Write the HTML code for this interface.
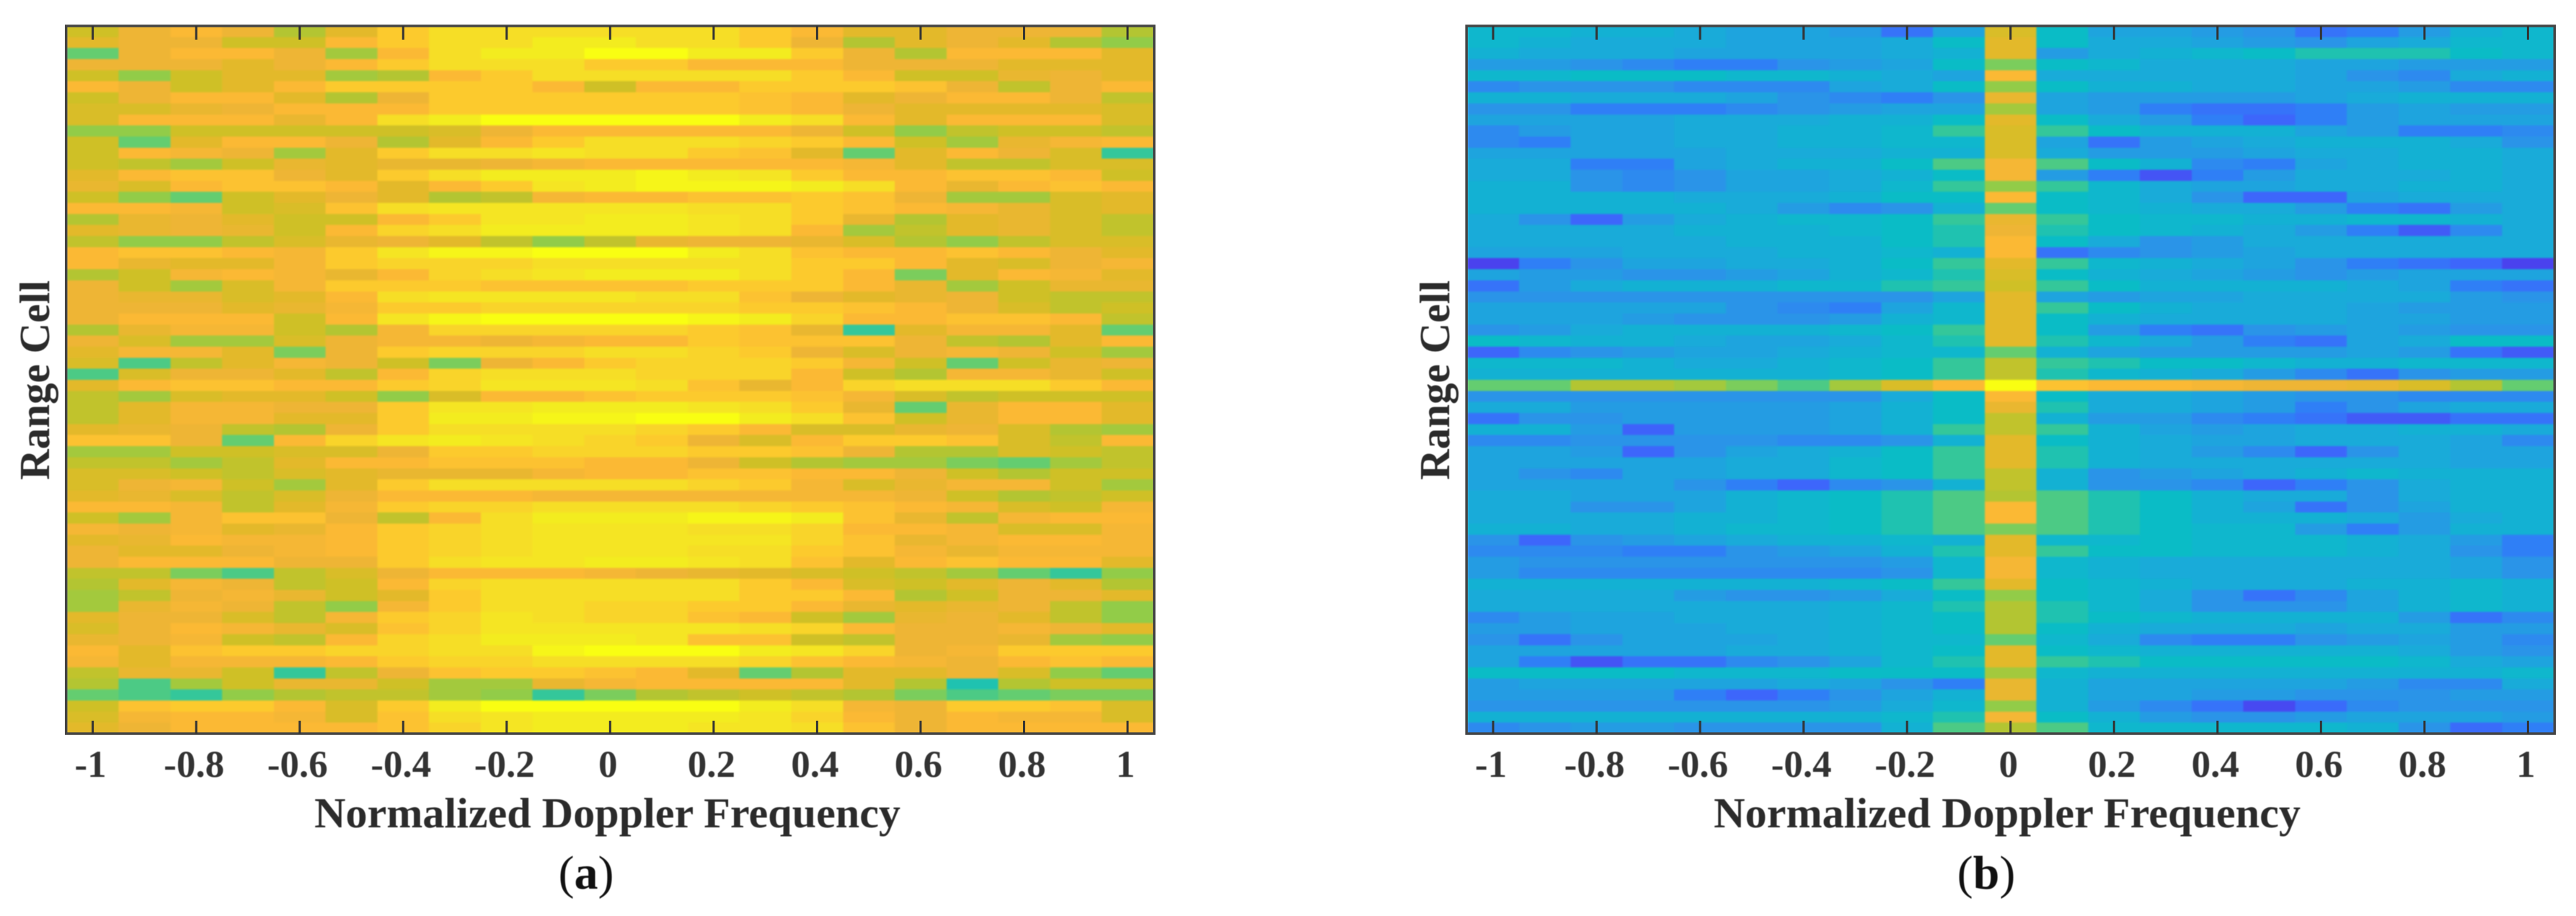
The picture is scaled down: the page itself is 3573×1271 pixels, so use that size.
<!DOCTYPE html>
<html lang="en">
<head>
<meta charset="utf-8">
<title>Range-Doppler heatmaps</title>
<style>
html,body{margin:0;padding:0;background:#fff;}
svg{display:block;}
text{font-family:"Liberation Serif",serif;filter:blur(0.6px);}
.tick-label{font-weight:bold;font-size:53px;fill:#333;text-anchor:middle;}
.axis-title{font-weight:bold;font-size:59px;fill:#2b2b2b;}
.caption{font-size:66px;fill:#111;text-anchor:middle;}
.caption tspan{font-weight:bold;}
.cells{filter:blur(1px);}
</style>
</head>
<body>
<svg id="figure" xmlns="http://www.w3.org/2000/svg" width="3573" height="1271" viewBox="0 0 3573 1271">
  <rect x="0" y="0" width="3573" height="1271" fill="#ffffff"/>
  <g id="panel-a"></g>
  <g id="panel-b"></g>
  <text class="axis-title" x="436" y="1148" textLength="813" lengthAdjust="spacingAndGlyphs">Normalized Doppler Frequency</text>
  <text class="axis-title" x="2377" y="1148" textLength="814" lengthAdjust="spacingAndGlyphs">Normalized Doppler Frequency</text>
  <text class="axis-title" transform="translate(68,666) rotate(-90)" textLength="277" lengthAdjust="spacingAndGlyphs">Range Cell</text>
  <text class="axis-title" transform="translate(2010,666) rotate(-90)" textLength="277" lengthAdjust="spacingAndGlyphs">Range Cell</text>
  <text class="caption" x="813" y="1233">(<tspan>a</tspan>)</text>
  <text class="caption" x="2755" y="1233">(<tspan>b</tspan>)</text>
</svg>
<script>
const dopplerBins = [-1,-0.9,-0.8,-0.7,-0.6,-0.5,-0.4,-0.3,-0.2,-0.1,0,0.1,0.2,0.3,0.4,0.5,0.6,0.7,0.8,0.9,1];
const tickValues = [-1,-0.8,-0.6,-0.4,-0.2,0,0.2,0.4,0.6,0.8,1];
const tickLabels = ["-1","-0.8","-0.6","-0.4","-0.2","0","0.2","0.4","0.6","0.8","1"];

const heatA = [
[11,13,14,13,10,12,15,16,16,16,16,16,16,15,14,12,12,13,13,13,10],
[12,13,13,11,11,14,15,16,16,17,17,16,16,15,13,10,12,13,12,10,9],
[8,13,14,14,13,9.5,14,16,17,17,18,18,17,17,15,13,10,14,14,14,12],
[13,13,13,12,13,14,15,16,16,16,15,15,14,14,14,13,13,13,12,12,12],
[11,9,11,12,12,9.5,10,14,15,16,16,16,16,16,15,14,11,11,12.5,13,12],
[14,13,11,12,14,15,15,15,15,14,11,14,14,15,15,15,14.5,13,10.5,13,14],
[11,13,14,14,12,10,13,15,15,15,15,15,15,14.5,14,12,13,14,14,13,10.5],
[11.5,11.5,12.5,13,14,14,14,15,15,15,15,15,15,14.5,14,13,12,12,12,12,11.5],
[11.5,14,14,14,12.5,14,16,17,18,18,18,18,18,17,16,14,12,14,14,14,11.5],
[9,9,11,11,11,11,11,11.5,13,14,14,14,14,14,13,11,9,10.5,11,11,10.5],
[11,8,12,14,14,13,10,12,14,15,16,16,16,15.5,15,14,11,9.5,12.5,13.5,14],
[11,14,13.5,13,9.5,12,15,16,16,16.5,16,16,15,14.5,12,8,12,14,13,11.5,7],
[11,10.5,9.5,11,12.5,12,12.5,12.5,13,13.5,14,14,14,14,14,13.5,12,10.5,10.5,11.5,11.5],
[12,14,14.5,14.5,13,12,15,16,17,17,17,17.5,17,16.5,15,14,14,14.5,14.5,14,11],
[12.5,11.5,14,14.5,14.5,14,12,14,15,16.5,17,17.5,17.5,17.5,17,16,14,12.5,14,14.5,14],
[11,9,8,11,12,13,12,10,10.5,13.5,14,14,14.5,14.5,15,14.5,13,9.5,9.5,11.5,12],
[14,14,13.5,11,11.5,14.5,16,16.5,16.5,16.5,16.5,16.5,16,16,15,14.5,14,13.5,12.5,11.5,12],
[10,12.5,13,12,11,11,14,15,16.5,16.5,17,17,16.5,16,15,12.5,10,12,12.5,11.5,10.5],
[12,12.5,13,12.5,11,14,15.5,16,17,17,17,17,16.5,16,14,9.5,10.5,12,12.5,11.5,10.5],
[10.5,9,9,10.5,11.5,12.5,13,12,10.5,9,10.5,12.5,13,13,12.5,11.5,10,9,10.5,11.5,11.5],
[14,14.5,14.5,14,13.5,15,16.5,17.5,17.5,18,18,18,17,16,14.5,14,14,14.5,14,13,12],
[14,12.5,12,12,13.5,15,15.5,15.5,15.5,16,16,16,16,16,15,15,14,12,11.5,13,13.5],
[10,11,13.5,14,13.5,12.5,14,15.5,16,16.5,17,17,17,16,15,14,8.5,12,14,13.5,12],
[13,11,9.5,11.5,13.5,15,15,15,14.5,14.5,14.5,14.5,15,15,15,14,12.5,9.5,11,12.5,12.5],
[13,12.5,12.5,11.5,12,14,16,16.5,16.5,16.5,16.5,16,16,14.5,13,12,12.5,13,11,10.5,10.5],
[13,13,13,12,12.5,13.5,15,15,15.5,15.5,15.5,15.5,15.5,15,15,14.5,14,13,11.5,10.5,11],
[13,14,14,14,11,14,16.5,17.5,18,18,18,18,17.5,17,15.5,14,14,14.5,14.5,14,10.5],
[10,12.5,13.5,13.5,11,10,13.5,15.5,15.5,15.5,15.5,15.5,15,14.5,12.5,7,12,13.5,13.5,12,8],
[13,11.5,9.5,9.5,11.5,13,13.5,13.5,13,13.5,14,14,15,14.5,14.5,14.5,13,10.5,10,12,14],
[12,13.5,13.5,12,8.5,13,15,15.5,15.5,15.5,16,16,15.5,15,13,11.5,13,13.5,13,11,9.5],
[11.5,7.5,10.5,12,13.5,13,11,8.5,13,14,15,15.5,15.5,15.5,15,13.5,11,8,11,12.5,13],
[7.5,11.5,13,13,12,10.5,14,15.5,16,16,16,15.5,15.5,15.5,14,11,10,13.5,13.5,12.5,11],
[12,14,14.5,14.5,14,14,15,15.5,16.5,16.5,16.5,16,14.5,12.5,14,15.5,16,16,16,15,14],
[10.5,9.5,11.5,12,12,11,9,11.5,14,14,14.5,15,15,15,14.5,13.5,11.5,10.5,11,11,11],
[10.5,12,13.5,13.5,13,13,15,16.5,16.5,17,17,17,16.5,16,15,12.5,8,12.5,14,14,12],
[10.5,12,13.5,13.5,12,12,15,17,17,17.5,17.5,18,18,17,16,14.5,11,12.5,14,14,12],
[12,12.5,13,10.5,10,13,15,16,16,16,16,15.5,15,14,11.5,11.5,12.5,13,11.5,10,9.5],
[14.5,14.5,13,8,14,15.5,16.5,17,16.5,16,15.5,15,13,11.5,14,15,15,14.5,11.5,10.5,14],
[9.5,9.5,11,11,11.5,11.5,13,15,15,15.5,15.5,15.5,15,15,14.5,13,10,10,11.5,11,10.5],
[10.5,10.5,9.5,10.5,12,14,14,14.5,14.5,14.5,14,14,13,11,10,9.5,9.5,8.5,8,9.5,10.5],
[11.5,11.5,11,10.5,11.5,12,12.5,12.5,12.5,13.5,14,14,14.5,14.5,14,14,13,11,10,11,11],
[11.5,13,13.5,11,9.5,12,15,16,16,16,16,16,15.5,15,13.5,11.5,12.5,13.5,13.5,11,9.5],
[12,12.5,11.5,10.5,11.5,13,14,14,14,13.5,13.5,13.5,13.5,13.5,13.5,13.5,13,11,10,10.5,11],
[14,14,13.5,10.5,12,13.5,15,15.5,15.5,16,16,16,16,15.5,15,14.5,14,13.5,11.5,11,13.5],
[11,9.5,13.5,14.5,14.5,13,10.5,14,16,17,17,17,17.5,17.5,17,14.5,12.5,10.5,13.5,14,14],
[13.5,13,13.5,12,12.5,14,15,15.5,16,16.5,16.5,16.5,16,16,15.5,14,14,13.5,11.5,11.5,13.5],
[12,12.5,14,13.5,13.5,14,15,15.5,16,16.5,16.5,16.5,16.5,16.5,15.5,14.5,12.5,13.5,14,14,13.5],
[13,12,12,13,13.5,14,15,15.5,16,16.5,16.5,16.5,16,16,15,14.5,13.5,12.5,13.5,13.5,13.5],
[13,14,14,14,13,13,15,16,16.5,16.5,17,17,16.5,16,14.5,12,14,14.5,14,14,12],
[10.5,10.5,8.5,7.5,10.5,11.5,13,14,14,14,13.5,13,12.5,12,11.5,11,10.5,9.5,8,7,9],
[10,12,13.5,13,10.5,11,14,15.5,16,16,16,16,16,15,14,11.5,11,12,13,12,10],
[9.5,10.5,13,13.5,12.5,11,12,15,16,16,16,16,16,15,15,14,10,11,13,13,12],
[9.5,12.5,13.5,13,10.5,9,13.5,15,16,16,15.5,15.5,15,15,14,12.5,12,12.5,13,10.5,9],
[12,13,13,11.5,10.5,13.5,15,15.5,16.5,16,15.5,15.5,14.5,14,11,9.5,12.5,13,12,10.5,9],
[11.5,13,14,13.5,12.5,11.5,14.5,15.5,16.5,16.5,16.5,16.5,16.5,16,15.5,14,13,13,13.5,13,12],
[12.5,13,13.5,11,10.5,14,15.5,16,17,17,17,16.5,14.5,14.5,11,10.5,13,13,12.5,9.5,9],
[14,12,14.5,15,15,15.5,15.5,16,16,17.5,18,18,18,17,16.5,15.5,13,13.5,15,15,15],
[13.5,12,13.5,13.5,13.5,14,15,15.5,15.5,16,16,16,16,15.5,14.5,14,13.5,13,14,14.5,14],
[10.5,12.5,12.5,11,7,10.5,13,14.5,15,15,14.5,14,12,8,10,12,12,13,11.5,9,8],
[10,7.5,9.5,11,12.5,12.5,11,9.5,9.5,12.5,13.5,14,14,14,14,12,10,6.5,10,11,11],
[8,7.5,7,9,10,10.5,10.5,9.5,9,7,8.5,10,10.5,11,10.5,10,8.5,7.5,8,8.5,8.5],
[11,14.5,15,15,14,11.5,15,17,18,18,18,18,18,17,16,13.5,13,15,15,14.5,11.5],
[11.5,13.5,14,14,13.5,11.5,14.5,16,16.5,17,17,17,17,16.5,15.5,14,13,14,13.5,13.5,11.5],
[12,13,14,14,14,14,14.5,15.5,16.5,17,17,17,16.5,16.5,16,14.5,13,14,14,14,14]
];

const heatB = [
[5.5,5.5,5,5,4.5,4,4,3.5,1.5,4,11.5,6,4,4,3.5,3,1.5,2,3.5,5,5.5],
[5.5,5,4.5,4.5,4.5,4,4,4,4.5,6,12,6,4.5,4.5,4,3.5,3,4,4.5,5.5,5.5],
[5,4.5,4.5,4.5,4,4,4,4,4.5,5,12,3.5,4.5,5,5.5,6,6.5,6.5,6.5,6,5.5],
[3.5,3.5,3,2.5,2,2,3,3.5,4,6,8.5,6,5.5,4.5,4.5,4.5,4,4,3.5,3.5,3.5],
[5.5,5.5,6,6,6,5.5,5.5,5,4.5,4,14,4.5,4.5,4.5,4.5,4.5,4,3,2.5,4.5,5],
[2.5,3,3,3,2.5,2.5,2.5,4,4.5,6,9,6,5,5,4.5,4.5,4,4,3.5,2.5,2.5],
[5,5,4.5,4.5,4.5,4,3,2.5,2,3,12.5,4,3.5,3.5,3.5,3.5,4,4.5,5,5,5],
[3,3,2,2,2,2.5,3,3.5,4,4,9.5,4,3.5,2,1.5,1.5,2,3.5,4,3.5,3.5],
[4,4,4,4,4.5,4.5,4.5,5,5,6,12,6,4.5,3.5,2,1,2,3.5,4,4,4],
[2.5,3.5,4,4,4.5,4.5,5,5,5.5,7,11.5,7,6,5,5,5,4,3.5,2,2,2.5],
[2.5,2,4,4,4.5,4.5,5,5,5.5,5.5,11.5,4,1.5,3.5,4,4.5,5,5,5,4.5,3],
[4,4,4,4,4,4.5,4.5,4.5,5,5,11.5,4.5,3.5,3.5,3.5,4,4.5,4.5,5,5,4.5],
[4.5,4.5,2,2,4,4.5,5,5,6,7.5,13.5,7.5,6,5,2.5,2,4,4.5,5,5,4.5],
[4.5,4.5,3,2.5,3,4,4,4.5,5,6,13.5,3.5,2,0.5,2,3.5,4.5,4.5,4.5,5,4.5],
[5,5,3,2.5,3,4,4,4.5,5.5,7,9,7,5.5,4.5,4,4,4.5,4.5,5,5,4.5],
[5,5,5,5,4.5,4.5,4.5,5,6,6,14,6,5.5,4.5,3,1,1,4,4.5,4.5,4.5],
[5,5,5,5,5,4.5,3.5,2.5,3,5,8,6,5.5,5,4.5,4.5,3.5,2,1.5,3.5,4.5],
[4.5,3,1,3.5,4.5,5,5.5,5.5,6,7,12.5,7,6,5.5,5.5,5,5,5.5,5.5,5,4.5],
[4.5,4.5,4.5,4.5,5,5,5,5.5,6,6.5,13,6.5,6,5.5,5,4.5,3.5,2,0.7,2.5,4.5],
[4.5,4.5,4.5,4.5,4.5,5,5,5,6,6.5,14,6,4.5,3,3.5,4.5,4.5,4.5,4.5,4.5,4.5],
[4,4,4,4.5,4.5,4.5,5,5,5.5,5,14,1.5,2.5,3,3.5,4,4.5,4.5,4.5,4.5,4.5],
[0,2,3,4,4,4.5,4.5,5,6,7,12,7,5.5,5,4.5,4,3,2,1.5,1,0],
[4,3.5,3.5,3,3,3.5,4,5,5.5,6.5,11.5,6,5,4.5,4,3.5,3,3.5,4,4,4],
[1.5,3.5,4.5,5,5,5,5.5,5.5,6.5,7,11,7,6,5,5,5,5,4.5,4,2,1.5],
[3,3,3,3,3,3,3,3,3,4,12,4,3.5,4,4,4.5,4.5,4.5,4.5,3.5,3],
[4,4,4,4,4,3,2.5,2,4,5.5,12,7,6,5,4.5,4.5,4.5,4,3.5,3.5,3.5],
[4,4,4,3.5,3,3,3,3.5,5,5.5,12,6,5,4.5,4.5,4.5,4.5,4,4,3.5,3.5],
[3,3.5,4.5,5,5,5,5,5.5,6,7,12,6,3.5,2,1.5,3,3.5,4,3.5,3,3],
[6,5.5,5,5,4.5,4,4,4.5,5.5,6.5,12,6.5,5.5,4.5,3.5,2,1.5,4,4.5,6,6],
[1,2.5,3,3.5,4,4,4.5,5,5.5,5.5,8,5,4,3.5,3.5,3.5,3.5,4,3.5,1.5,0.7],
[5.5,5.5,5.5,5,4.5,4.5,5,5.5,6,7,10.5,7,6.5,6,6,5.5,5,5,5.5,5.5,5.5],
[5,5,5,5,5,5,5,5.5,6,7,10.5,6.5,5.5,5,4.5,3.5,2.5,1.5,3,3.5,3.5],
[8,8,10,10,9.5,8.5,7.5,9.5,11.5,14,18,14.5,14,14,13.5,13,13,12.5,11.5,10,8],
[3,3,3,3,3,3,3,3,4.5,6,14,6,4.5,4.5,4,3.5,3,3,2.5,2.5,2.5],
[4.5,4.5,3.5,3.5,3.5,3.5,3.5,4,5,6,12.5,6.5,4.5,4.5,4,3.5,2,3,4,4.5,4.5],
[1.5,3,3,3.5,3.5,3.5,3.5,4,5,6,10.5,5,3.5,3.5,2.5,2,1.5,0.7,0.7,1.5,1.5],
[5,5,3.5,0.9,3.5,3.5,3.5,4,5,7,10.5,7,5,4,3.5,4,4.5,4.5,5,5,4.5],
[2.5,2.5,3,3,3,3,2.5,2.5,3,5,12,6,5,4.5,4,4,4.5,4.5,4.5,4,2.5],
[4,4,3.5,1,3,4,4.5,5,6,7,12,6.5,5,4.5,3.5,2.5,1,3,4.5,4,4],
[4,4,4,4,4,4.5,4.5,5.5,6,7,12,6.5,5,4.5,4.5,4.5,4.5,4.5,4.5,4,4],
[4,3,2.5,4,4,4.5,4.5,5.5,6,7,10.5,5,3,3.5,4,4.5,5,5.5,5,5,5],
[4,4,4,4,3,2,1,2.5,3,5,10.5,5,3,3,2.5,1,2,3,4.5,5,5],
[4.5,4.5,4,4,4,5,5.5,6,6.5,7.5,10,7.5,6.5,6,5,4.5,4.5,3,4.5,5,5],
[4.5,4.5,3,3,4,5,5.5,6,6.5,7.5,14,7.5,6.5,6,5,4,1.5,3,4,5,5],
[4.5,4.5,4.5,4.5,5,5,5.5,6,6.5,7.5,14,7.5,6.5,6,5,5,5,4.5,3.5,4.5,5],
[5,5,4.5,4.5,5,5.5,5.5,6,6.5,7.5,8.5,7.5,6.5,6,5.5,5.5,3.5,2,3.5,5,5],
[3,1,3,3.5,4,4.5,5,5,5.5,5,12,5.5,5.5,6,5.5,5.5,5.5,5,4.5,3.5,2],
[2.5,2.5,2.5,2,2,3,3.5,4,5,6.5,12,7,6,6,5.5,5.5,5.5,5,4.5,3,2],
[3.5,3,3,3,3,3,3,3,3.5,5.5,13.5,5.5,5,4.5,4.5,4.5,4.5,4.5,4.5,4,3],
[3.5,2.5,2.5,2.5,2.5,2.5,2.5,2.5,3,5.5,13.5,5.5,5,4.5,4.5,4.5,4.5,4.5,4.5,4,3],
[5,5,5,5,5,5,5,5.5,6,7,12,6,5.5,5,4.5,4.5,4.5,5,5,5.5,5],
[4.5,4.5,4.5,4.5,3.5,3,3,3.5,4.5,6,9,6,5.5,4.5,3,1.5,2.5,4,5,5.5,5],
[4.5,4.5,4.5,4.5,4.5,4.5,4.5,5,5.5,6.5,10,6.5,5.5,4.5,3,3,3,4,5,5.5,5],
[2.5,3.5,4,4,4.5,4.5,4.5,5,5.5,6,10,6.5,6,5.5,5,5,5,5,3.5,1.5,2.5],
[3.5,3.5,4,4,4,4.5,4.5,5,5.5,6,10,6,5,4.5,4.5,4.5,4,4.5,4.5,3.5,3.5],
[3,1.5,3,4,4,4,4.5,5,5.5,5.5,8,5.5,4.5,2.5,2,2,3,3.5,4,3.5,2.5],
[4,4,4,4,4,4.5,4.5,5,5.5,6,12,6,5.5,5,5,5,5,5,4.5,3.5,3],
[4,2,0.5,1.5,1.5,2.5,3,4,5.5,6.5,12,7,6.5,6,6,6,6,6,5.5,4.5,4],
[6,6,6,6,5.5,5.5,5.5,6,6,6,9.5,5.5,5,5,5,5,5,5,5,5,5.5],
[3.5,4,4,4,4,4,4.5,4,3,2,12.5,5,4,4,4,4,4,3.5,2.5,2.5,4.5],
[3.5,3.5,3.5,3.5,2,1,2,3,4,5,12.5,5,4,4,3.5,3.5,3,3,3,3.5,3.5],
[3,3,3,3,3,3,3,3.5,4.5,5.5,9,5,3.5,2.5,1.5,0.2,1.2,2.5,3,3,3],
[5,5,5,5,5,5,5,5,5.5,6.5,13.5,6,5,3.5,3,3,3.5,4,4,4,3.5],
[2.5,3,3.5,3.5,3,3,3,3,5,7.5,10,7.5,5.5,5.5,5.5,5.5,5.5,5,3,1.2,2]
];

const colorStops = ["#4a42ee","#3d66fb","#2f7ff6","#2a94e8","#1ea4de","#13b1d3","#0abcc6","#34c79a","#64cd70","#92cc48","#b3c532","#cfc026","#e3b92a","#eeb535","#fbb934","#fcca2d","#f6de26","#f3ec1f","#f9fe12"];

const SVG_NS = "http://www.w3.org/2000/svg";
const plotTop = 36;
const plotBottom = 1018;
const pxPerUnit = 717.7;
const binWidth = 0.1;

function colorFor(v) {
  const clamped = Math.max(0, Math.min(colorStops.length - 1, v));
  const lo = Math.floor(clamped);
  const hi = Math.min(colorStops.length - 1, lo + 1);
  const t = clamped - lo;
  const parse = function (hex) {
    return [1, 3, 5].map(function (i) { return parseInt(hex.substr(i, 2), 16); });
  };
  const a = parse(colorStops[lo]);
  const b = parse(colorStops[hi]);
  const mix = a.map(function (c, i) { return Math.round(c + (b[i] - c) * t); });
  return "rgb(" + mix.join(",") + ")";
}

function drawPanel(groupId, tickOriginX, rows) {
  const group = document.getElementById(groupId);
  const xScale = function (f) { return tickOriginX + (f + 1) * pxPerUnit; };
  const yScale = function (i) { return plotTop + i * (plotBottom - plotTop) / rows.length; };

  const cells = document.createElementNS(SVG_NS, "g");
  cells.setAttribute("class", "cells");
  
  
  group.appendChild(cells);

  rows.forEach(function (row, r) {
    row.forEach(function (value, c) {
      const cell = document.createElementNS(SVG_NS, "rect");
      const left = xScale(dopplerBins[c] - binWidth / 2);
      const right = xScale(dopplerBins[c] + binWidth / 2);
      cell.setAttribute("x", left.toFixed(2));
      cell.setAttribute("y", yScale(r).toFixed(2));
      cell.setAttribute("width", (right - left + 0.6).toFixed(2));
      cell.setAttribute("height", (yScale(r + 1) - yScale(r) + 0.6).toFixed(2));
      cell.setAttribute("fill", colorFor(value));
      cell.setAttribute("shape-rendering", "crispEdges");
      
      
      cells.appendChild(cell);
    });
  });

  const x0 = xScale(-1.05) - 1;
  const x1 = xScale(1.05) + 1;
  const frame = document.createElementNS(SVG_NS, "rect");
  frame.setAttribute("x", x0.toFixed(2));
  frame.setAttribute("y", plotTop);
  frame.setAttribute("width", (x1 - x0).toFixed(2));
  frame.setAttribute("height", plotBottom - plotTop);
  frame.setAttribute("fill", "none");
  frame.setAttribute("stroke", "#444444");
  frame.setAttribute("stroke-width", "3.5");
  
  
  group.appendChild(frame);

  tickValues.forEach(function (value, i) {
    const x = xScale(value);
    const topTick = document.createElementNS(SVG_NS, "line");
    topTick.setAttribute("x1", x.toFixed(2));
    topTick.setAttribute("x2", x.toFixed(2));
    topTick.setAttribute("y1", plotTop);
    topTick.setAttribute("y2", plotTop + 19);
    topTick.setAttribute("stroke", "#333333");
    topTick.setAttribute("stroke-width", "3");
    
    
    group.appendChild(topTick);

    const bottomTick = document.createElementNS(SVG_NS, "line");
    bottomTick.setAttribute("x1", x.toFixed(2));
    bottomTick.setAttribute("x2", x.toFixed(2));
    bottomTick.setAttribute("y1", plotBottom);
    bottomTick.setAttribute("y2", plotBottom - 18);
    bottomTick.setAttribute("stroke", "#333333");
    bottomTick.setAttribute("stroke-width", "3");
    
    
    group.appendChild(bottomTick);

    const label = document.createElementNS(SVG_NS, "text");
    label.setAttribute("class", "tick-label");
    label.setAttribute("x", (x - 3).toFixed(2));
    label.setAttribute("y", 1078);
    label.textContent = tickLabels[i];
    
    
    group.appendChild(label);
  });
}

drawPanel("panel-a", 128.6, heatA);
drawPanel("panel-b", 2071, heatB);
</script>
</body>
</html>
